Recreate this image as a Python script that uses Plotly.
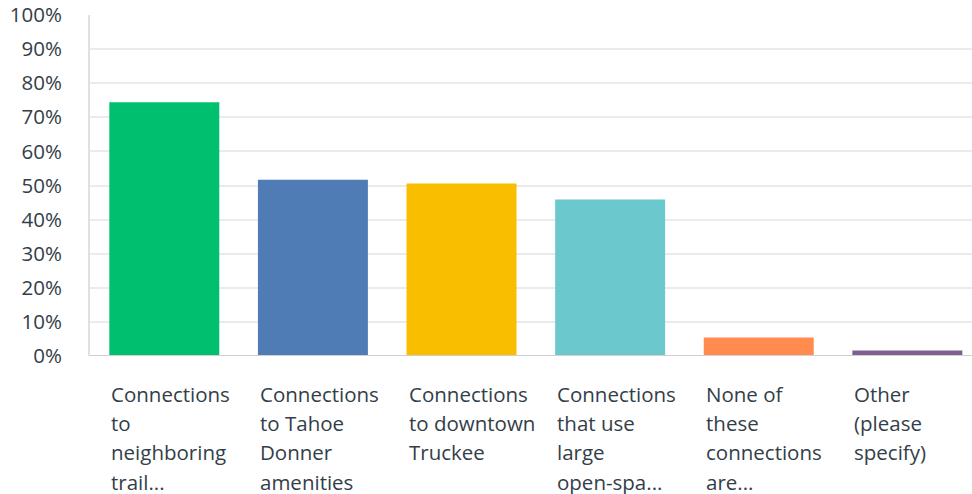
import plotly.graph_objects as go

categories = [
    "Connections to neighboring trail...",
    "Connections to Tahoe Donner amenities",
    "Connections to downtown Truckee",
    "Connections that use large open-spa...",
    "None of these connections are...",
    "Other (please specify)",
]
label_lines = [
    ["Connections", "to", "neighboring", "trail..."],
    ["Connections", "to Tahoe", "Donner", "amenities"],
    ["Connections", "to downtown", "Truckee"],
    ["Connections", "that use", "large", "open-spa..."],
    ["None of", "these", "connections", "are..."],
    ["Other", "(please", "specify)"],
]
values = [74.4, 51.7, 50.6, 45.9, 5.4, 1.6]
colors = ["#00BF6F", "#507CB6", "#F9BE00", "#6BC8CD", "#FF8B4F", "#7F5F90"]
y_ticks = list(range(0, 101, 10))
y_tick_text = [f"{v}%" for v in y_ticks]

FONT = "Open Sans"
TEXT_COLOR = "#333e48"
BAR_WIDTH = 0.74

x = list(range(len(categories)))
fig = go.Figure(
    go.Bar(
        x=x,
        y=values,
        marker=dict(color=colors, line=dict(width=0)),
        width=BAR_WIDTH,
        hovertext=categories,
    )
)

annotations = []
for i, lines in enumerate(label_lines):
    for j, line in enumerate(lines):
        annotations.append(
            dict(
                x=i - BAR_WIDTH / 2,
                xref="x",
                xanchor="left",
                y=0,
                yref="paper",
                yanchor="top",
                yshift=-22 - 29.2 * j,
                text=line,
                showarrow=False,
                align="left",
                font=dict(family=FONT, size=20.5, color=TEXT_COLOR),
            )
        )

fig.update_layout(
    width=972,
    height=494,
    margin=dict(l=90, r=0, t=12, b=138),
    paper_bgcolor="white",
    plot_bgcolor="white",
    showlegend=False,
    bargap=0.26,
    annotations=annotations,
    xaxis=dict(
        range=[-0.5, 5.435],
        showticklabels=False,
        showgrid=False,
        zeroline=False,
        showline=False,
        fixedrange=True,
    ),
    yaxis=dict(
        range=[0, 100],
        tickvals=y_ticks,
        ticktext=y_tick_text,
        tickfont=dict(family=FONT, size=20.5, color=TEXT_COLOR),
        ticklabelstandoff=22,
        ticklabeloverflow="allow",
        showgrid=True,
        gridcolor="#ebebeb",
        gridwidth=2,
        zeroline=False,
        showline=True,
        linecolor="#e0e0e0",
        linewidth=2,
        fixedrange=True,
    ),
    shapes=[
        dict(
            type="line", xref="paper", yref="y", x0=0, x1=1, y0=0, y1=0,
            line=dict(color="#d0d0d0", width=2),
        )
    ],
)

fig.write_html(
    "out.html",
    config={"displayModeBar": False},
    post_script="document.body.style.margin='0';document.body.style.overflow='hidden';",
)
